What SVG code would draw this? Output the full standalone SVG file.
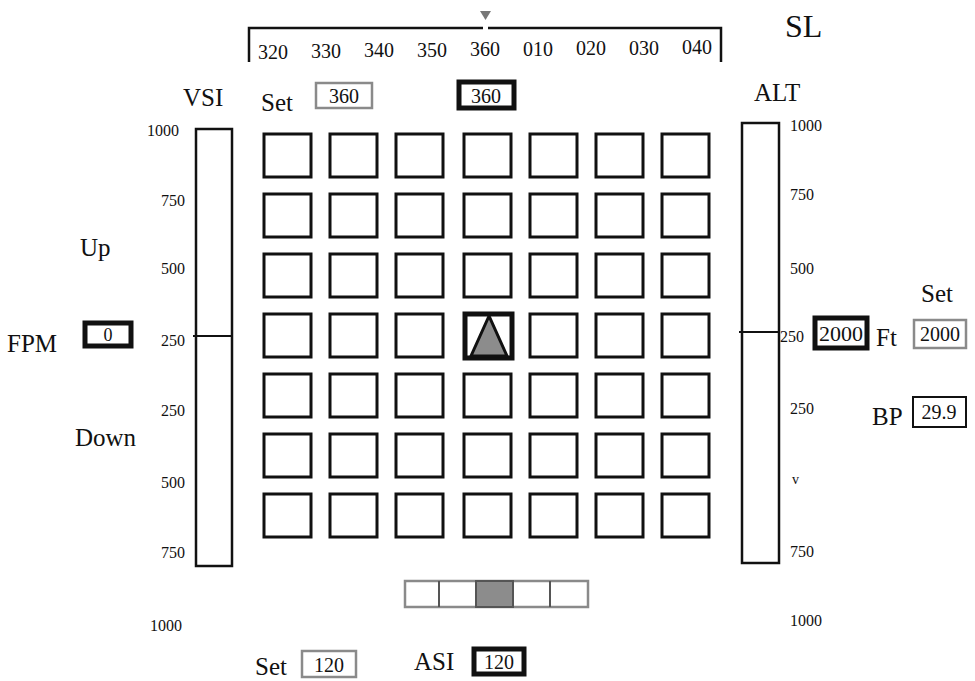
<svg xmlns="http://www.w3.org/2000/svg" width="975" height="681" viewBox="0 0 975 681">
<style>
text{font-family:"Liberation Serif","Times New Roman",serif;fill:#111}
.lbl{font-size:25px}
.sm{font-size:16px}
.val{font-size:20px}
.cell{fill:#fff;stroke:#111;stroke-width:3}
.bar{fill:#fff;stroke:#111;stroke-width:2.5}
.thick{fill:#fff;stroke:#111;stroke-width:5}
.gray{fill:#fff;stroke:#8a8a8a;stroke-width:2.5}
.thin{fill:#fff;stroke:#111;stroke-width:2}
</style>
<rect width="975" height="681" fill="#fff"/>

<g id="heading-tape">
<path d="M249,62 V28 H483 M488,28 H721 V62" fill="none" stroke="#111" stroke-width="2.5"/>
<polygon points="480,11 491,11 485.5,20" fill="#777"/>
<g text-anchor="middle" style="font-size:20px">
<text x="273" y="59">320</text><text x="326" y="58">330</text><text x="379" y="57">340</text>
<text x="432" y="57">350</text><text x="485" y="56">360</text><text x="538" y="56">010</text>
<text x="591" y="55">020</text><text x="644" y="55">030</text><text x="697" y="54">040</text>
</g>
</g>
<text id="sl" x="785" y="37" style="font-size:32px">SL</text>

<g id="heading-set">
<text x="261" y="111" class="lbl">Set</text>
<rect x="316" y="83" width="56" height="25" class="gray"/>
<text x="344" y="103" class="val" text-anchor="middle">360</text>
</g>
<g id="heading-current">
<rect x="459" y="82" width="55" height="26" class="thick"/>
<text x="486" y="103" class="val" text-anchor="middle">360</text>
</g>

<g id="vsi">
<text x="183" y="106" class="lbl">VSI</text>
<rect x="196" y="129" width="36" height="437" class="bar"/>
<line x1="193" y1="336" x2="232" y2="336" stroke="#111" stroke-width="2"/>
<g class="sm">
<text x="147" y="136">1000</text><text x="161" y="206">750</text><text x="161" y="274">500</text>
<text x="161" y="346">250</text><text x="161" y="416">250</text><text x="161" y="488">500</text>
<text x="161" y="558">750</text><text x="150" y="631">1000</text>
</g>
<text x="80" y="256" class="lbl">Up</text>
<text x="75" y="446" class="lbl">Down</text>
<text x="7" y="352" class="lbl">FPM</text>
<rect x="85" y="323" width="46" height="23" class="thick"/>
<text x="108" y="341" style="font-size:18px" text-anchor="middle">0</text>
</g>

<g id="alt">
<text x="754" y="101" class="lbl">ALT</text>
<rect x="742" y="123" width="37" height="440" class="bar"/>
<line x1="739" y1="332" x2="779" y2="332" stroke="#111" stroke-width="2"/>
<g class="sm">
<text x="790" y="131">1000</text><text x="790" y="200">750</text><text x="790" y="274">500</text>
<text x="780" y="342">250</text><text x="790" y="414">250</text><text x="792" y="484" style="font-size:14px">v</text>
<text x="790" y="557">750</text><text x="790" y="626">1000</text>
</g>
<rect x="815" y="318" width="52" height="30" class="thick"/>
<text x="841" y="341" style="font-size:22px" text-anchor="middle">2000</text>
<text x="876" y="346" class="lbl">Ft</text>
<text x="921" y="302" class="lbl">Set</text>
<rect x="914" y="320" width="52" height="28" class="gray"/>
<text x="940" y="341" class="val" text-anchor="middle">2000</text>
<text x="872" y="425" class="lbl">BP</text>
<rect x="913" y="397" width="53" height="30" class="thin"/>
<text x="939" y="419" class="val" text-anchor="middle">29.9</text>
</g>

<g id="grid">
<g id="row1">
<rect x="264" y="134" width="47" height="43" class="cell"/><rect x="330" y="134" width="47" height="43" class="cell"/><rect x="396" y="134" width="47" height="43" class="cell"/><rect x="464" y="134" width="47" height="43" class="cell"/><rect x="530" y="134" width="47" height="43" class="cell"/><rect x="596" y="134" width="47" height="43" class="cell"/><rect x="662" y="134" width="47" height="43" class="cell"/>
</g>
<g id="row2">
<rect x="264" y="194" width="47" height="43" class="cell"/><rect x="330" y="194" width="47" height="43" class="cell"/><rect x="396" y="194" width="47" height="43" class="cell"/><rect x="464" y="194" width="47" height="43" class="cell"/><rect x="530" y="194" width="47" height="43" class="cell"/><rect x="596" y="194" width="47" height="43" class="cell"/><rect x="662" y="194" width="47" height="43" class="cell"/>
</g>
<g id="row3">
<rect x="264" y="254" width="47" height="43" class="cell"/><rect x="330" y="254" width="47" height="43" class="cell"/><rect x="396" y="254" width="47" height="43" class="cell"/><rect x="464" y="254" width="47" height="43" class="cell"/><rect x="530" y="254" width="47" height="43" class="cell"/><rect x="596" y="254" width="47" height="43" class="cell"/><rect x="662" y="254" width="47" height="43" class="cell"/>
</g>
<g id="row4">
<rect x="264" y="314" width="47" height="43" class="cell"/><rect x="330" y="314" width="47" height="43" class="cell"/><rect x="396" y="314" width="47" height="43" class="cell"/><rect x="530" y="314" width="47" height="43" class="cell"/><rect x="596" y="314" width="47" height="43" class="cell"/><rect x="662" y="314" width="47" height="43" class="cell"/>
</g>
<g id="row5">
<rect x="264" y="374" width="47" height="43" class="cell"/><rect x="330" y="374" width="47" height="43" class="cell"/><rect x="396" y="374" width="47" height="43" class="cell"/><rect x="464" y="374" width="47" height="43" class="cell"/><rect x="530" y="374" width="47" height="43" class="cell"/><rect x="596" y="374" width="47" height="43" class="cell"/><rect x="662" y="374" width="47" height="43" class="cell"/>
</g>
<g id="row6">
<rect x="264" y="434" width="47" height="43" class="cell"/><rect x="330" y="434" width="47" height="43" class="cell"/><rect x="396" y="434" width="47" height="43" class="cell"/><rect x="464" y="434" width="47" height="43" class="cell"/><rect x="530" y="434" width="47" height="43" class="cell"/><rect x="596" y="434" width="47" height="43" class="cell"/><rect x="662" y="434" width="47" height="43" class="cell"/>
</g>
<g id="row7">
<rect x="264" y="494" width="47" height="43" class="cell"/><rect x="330" y="494" width="47" height="43" class="cell"/><rect x="396" y="494" width="47" height="43" class="cell"/><rect x="464" y="494" width="47" height="43" class="cell"/><rect x="530" y="494" width="47" height="43" class="cell"/><rect x="596" y="494" width="47" height="43" class="cell"/><rect x="662" y="494" width="47" height="43" class="cell"/>
</g>
</g>
<g id="aircraft">
<rect x="465" y="314" width="47" height="44" class="thick"/>
<polygon points="489,316 471,356 507,356" fill="#8c8c8c" stroke="#111" stroke-width="3" stroke-linejoin="miter"/>
</g>

<g id="speed-tape">
<rect x="405" y="581" width="183" height="26" fill="#fff" stroke="#8a8a8a" stroke-width="2.5"/>
<rect x="476" y="581" width="37" height="26" fill="#8c8c8c" stroke="#555" stroke-width="2"/>
<line x1="439" y1="581" x2="439" y2="607" stroke="#555" stroke-width="2"/>
<line x1="550" y1="581" x2="550" y2="607" stroke="#555" stroke-width="2"/>
</g>
<g id="asi">
<text x="414" y="670" class="lbl">ASI</text>
<rect x="474" y="649" width="50" height="25" class="thick"/>
<text x="499" y="669" class="val" text-anchor="middle">120</text>
</g>
<g id="speed-set">
<text x="255" y="675" class="lbl">Set</text>
<rect x="302" y="651" width="54" height="26" class="gray"/>
<text x="329" y="672" class="val" text-anchor="middle">120</text>
</g>
</svg>
